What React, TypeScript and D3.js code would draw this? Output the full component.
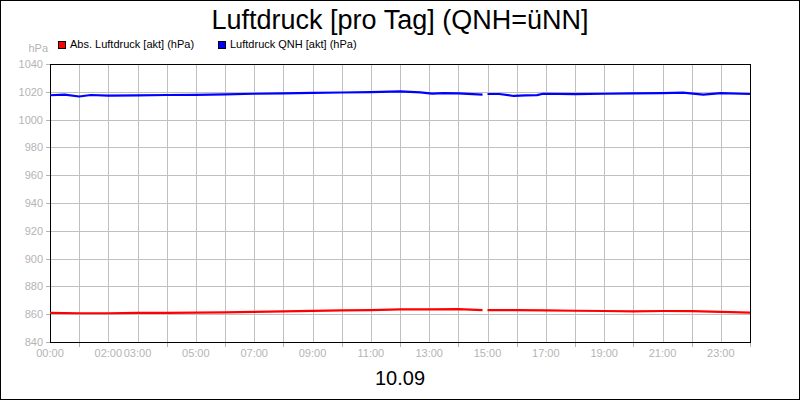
import React, { useEffect, useRef } from "react";
import * as d3 from "d3";

// Stunden des Tages (0-24) und Messwerte in hPa; null = Messlücke
const qnhHours = [0, 0.5, 1, 1.4, 2, 3, 4, 5, 6, 7, 8, 9, 10, 11, 12, 12.7, 13.1, 13.5, 14, 14.83, 14.9,
  15, 15.4, 15.9, 16.3, 16.7, 16.9, 18, 19, 20, 21, 21.7, 22.4, 23, 24];
const qnhValues: (number | null)[] = [1017.5, 1018, 1016.6, 1017.7, 1017.3, 1017.4, 1017.7, 1017.8, 1018.2,
  1018.6, 1018.8, 1019.2, 1019.5, 1019.8, 1020.3, 1019.6, 1018.7, 1019.0, 1018.9, 1018.0, null,
  1018.4, 1018.4, 1017.0, 1017.4, 1017.6, 1018.6, 1018.3, 1018.6, 1018.9, 1019.1, 1019.4, 1018.0, 1019.0, 1018.4];

const absHours = [0, 1, 2, 3, 4, 5, 6, 7, 8, 9, 10, 11, 12, 13, 14, 14.83, 14.9,
  15, 16, 17, 18, 19, 20, 21, 22, 23, 24];
const absValues: (number | null)[] = [860.9, 860.7, 860.7, 860.9, 861.0, 861.2, 861.3, 861.7, 862.1, 862.4,
  862.7, 863.0, 863.4, 863.5, 863.6, 862.9, null,
  863.0, 862.9, 862.8, 862.5, 862.3, 862.1, 862.3, 862.2, 861.7, 861.2];

const labelHours = [0, 2, 3, 5, 7, 9, 11, 13, 15, 17, 19, 21, 23];
const yTicks = [840, 860, 880, 900, 920, 940, 960, 980, 1000, 1020, 1040];

const seriesNames = ["Abs. Luftdruck [akt] (hPa)", "Luftdruck QNH [akt] (hPa)"];
const seriesColors = ["#ff0000", "#0000ff"];

const App: React.FC = () => {
  const svgRef = useRef<SVGSVGElement>(null);

  useEffect(() => {
    if (!svgRef.current) return;
    const W = 800;
    const H = 400;
    const margin = { top: 64, right: 50, bottom: 58, left: 50 };
    const font = "'Liberation Sans', Arial, sans-serif";
    const grey = "#b4b4b4";

    const svg = d3.select(svgRef.current).attr("width", W).attr("height", H);
    svg.selectAll("*").remove();

    svg.append("rect").attr("x", 0.5).attr("y", 0.5).attr("width", W - 1).attr("height", H - 1)
      .attr("fill", "#fff").attr("stroke", "#000");

    const x = d3.scaleLinear().domain([0, 24]).range([margin.left, W - margin.right]);
    const y = d3.scaleLinear().domain([840, 1040]).range([H - margin.bottom, margin.top]);

    const g = svg.append("g").attr("shape-rendering", "crispEdges");

    // Gitter
    g.selectAll("line.vg").data(d3.range(1, 24)).enter().append("line")
      .attr("x1", (d) => Math.round(x(d)) + 0.5).attr("x2", (d) => Math.round(x(d)) + 0.5)
      .attr("y1", y(1040)).attr("y2", y(840)).attr("stroke", "#c0c0c0");
    g.selectAll("line.hg").data(yTicks.slice(1, -1)).enter().append("line")
      .attr("x1", x(0)).attr("x2", x(24))
      .attr("y1", (d) => Math.round(y(d)) + 0.5).attr("y2", (d) => Math.round(y(d)) + 0.5)
      .attr("stroke", "#c0c0c0");

    // Ticks unten (nur unbeschriftete Stunden)
    g.selectAll("line.xt").data(d3.range(1, 25).filter((h) => !labelHours.includes(h))).enter().append("line")
      .attr("x1", (d) => Math.round(x(d)) + 0.5).attr("x2", (d) => Math.round(x(d)) + 0.5)
      .attr("y1", y(840)).attr("y2", y(840) + 5).attr("stroke", grey);
    g.selectAll("line.yt").data(yTicks).enter().append("line")
      .attr("x1", x(0) - 4).attr("x2", x(0))
      .attr("y1", (d) => Math.round(y(d)) + 0.5).attr("y2", (d) => Math.round(y(d)) + 0.5)
      .attr("stroke", grey);

    // Rahmen
    g.append("rect").attr("x", Math.round(x(0)) + 0.5).attr("y", Math.round(y(1040)) + 0.5)
      .attr("width", Math.round(x(24)) - Math.round(x(0))).attr("height", Math.round(y(840)) - Math.round(y(1040)))
      .attr("fill", "none").attr("stroke", "#000");

    // Linien
    const drawLine = (hours: number[], values: (number | null)[], color: string) => {
      const pts = hours.map((h, i) => ({ h, v: values[i] }));
      const line = d3.line<{ h: number; v: number | null }>()
        .defined((d) => d.v !== null)
        .x((d) => x(d.h))
        .y((d) => y(d.v as number));
      svg.append("path").datum(pts).attr("fill", "none").attr("stroke", color)
        .attr("stroke-width", 2.2).attr("stroke-linejoin", "round").attr("d", line);
    };
    drawLine(absHours, absValues, seriesColors[0]);
    drawLine(qnhHours, qnhValues, seriesColors[1]);

    // Achsenbeschriftung
    svg.selectAll("text.yl").data(yTicks).enter().append("text")
      .attr("x", x(0) - 7).attr("y", (d) => y(d) + 4).attr("text-anchor", "end")
      .attr("font-family", font).attr("font-size", 11).attr("fill", grey).text((d) => d);
    svg.selectAll("text.xl").data(labelHours).enter().append("text")
      .attr("x", (d) => x(d)).attr("y", y(840) + 15).attr("text-anchor", "middle")
      .attr("font-family", font).attr("font-size", 11).attr("fill", grey)
      .text((d) => `${String(d).padStart(2, "0")}:00`);
    svg.append("text").attr("x", 48).attr("y", 52).attr("text-anchor", "end")
      .attr("font-family", font).attr("font-size", 11).attr("fill", grey).text("hPa");

    // Titel
    svg.append("text").attr("x", 400).attr("y", 29).attr("text-anchor", "middle")
      .attr("font-family", font).attr("font-size", 27).attr("fill", "#000")
      .text("Luftdruck [pro Tag] (QNH=üNN]");
    svg.append("text").attr("x", 400).attr("y", 385).attr("text-anchor", "middle")
      .attr("font-family", font).attr("font-size", 20).attr("fill", "#000").text("10.09");

    // Legende
    const legendX = [58, 218];
    seriesNames.forEach((name, i) => {
      svg.append("rect").attr("x", legendX[i] + 0.5).attr("y", 41.5).attr("width", 7).attr("height", 7)
        .attr("fill", seriesColors[i]).attr("stroke", "#000").attr("shape-rendering", "crispEdges");
      svg.append("text").attr("x", legendX[i] + 12).attr("y", 48)
        .attr("font-family", font).attr("font-size", 11).attr("fill", "#000").text(name);
    });
  }, []);

  return <svg ref={svgRef} style={{ position: "absolute", left: 0, top: 0, display: "block" }}></svg>;
};

export default App;
